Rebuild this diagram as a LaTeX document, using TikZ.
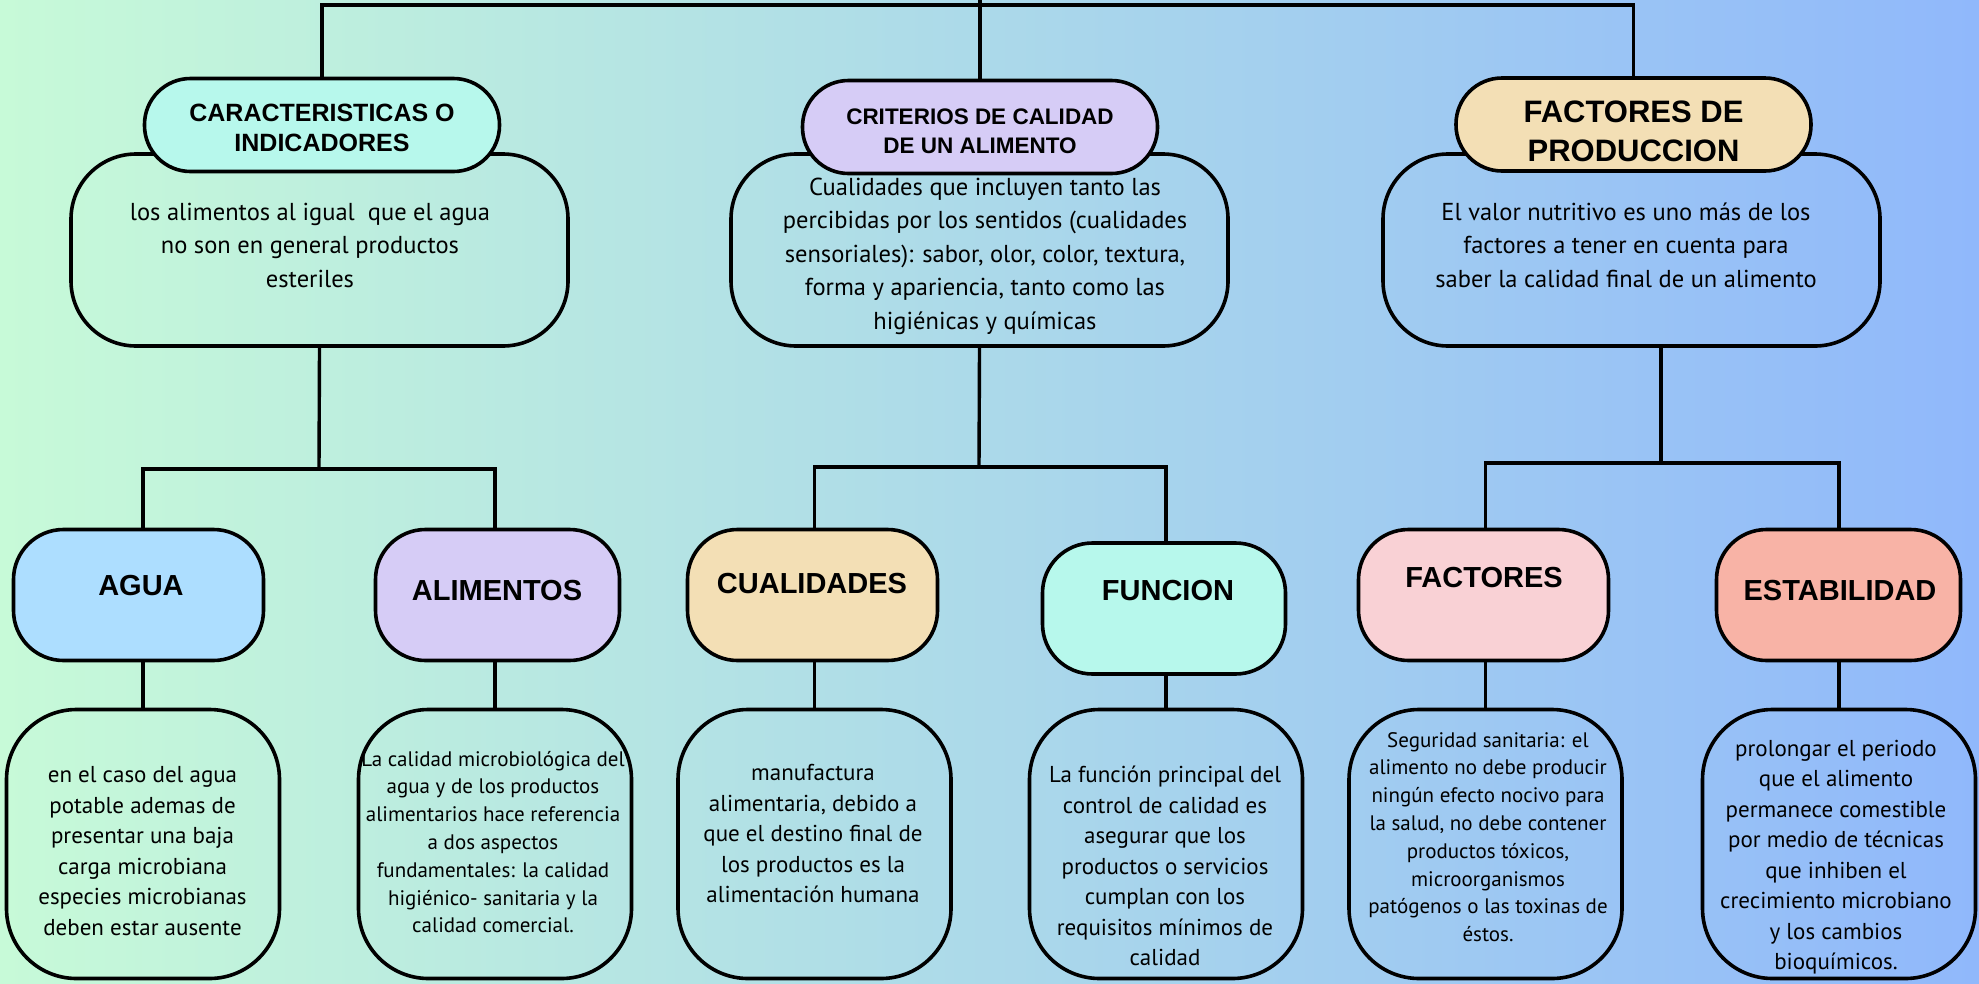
\documentclass[tikz,border=0pt]{standalone}
\usepackage{fontspec}
\setmainfont{PT Sans}
\newfontfamily\headfont{Liberation Sans}
\usetikzlibrary{calc}
\definecolor{bgL}{RGB}{199,250,216}
\definecolor{bgR}{RGB}{144,184,251}
\definecolor{cMint}{RGB}{183,248,236}
\definecolor{cLav}{RGB}{214,204,246}
\definecolor{cBeige}{RGB}{243,223,181}
\definecolor{cBlue}{RGB}{173,222,255}
\definecolor{cPink}{RGB}{249,209,213}
\definecolor{cSalmon}{RGB}{248,179,166}
\begin{document}
\begin{tikzpicture}[x=1pt,y=-1pt,
  conn/.style={line width=3.4pt,draw=black},
  bigbox/.style={draw=black,line width=3.6pt,rounded corners=65pt,minimum width=497pt,minimum height=192pt,inner sep=0pt},
  pill/.style={draw=black,line width=3.6pt,rounded corners=46pt,minimum width=355pt,minimum height=93pt,inner sep=0pt},
  midbox/.style={draw=black,line width=3.6pt,rounded corners=50pt,minimum height=131pt,inner sep=0pt},
  lowbox/.style={draw=black,line width=3.6pt,rounded corners=70pt,minimum width=273pt,minimum height=269pt,inner sep=0pt},
  desc/.style={align=center,inner sep=0pt,font=\fontsize{24.5}{33.5}\selectfont},
  lowtxt/.style={align=center,inner sep=0pt,font=\fontsize{23}{30.5}\selectfont},
  smalltxt/.style={align=center,inner sep=0pt,font=\fontsize{21}{27.8}\selectfont},
  midtitle/.style={inner sep=0pt,font=\headfont\bfseries\fontsize{29}{34}\selectfont}
]
\useasboundingbox (0,0) rectangle (1979,983);
\shade[left color=bgL,right color=bgR] (0,0) rectangle (1979,983);

% level 1 description boxes
\node[bigbox] (d1) at (319.5,250) {};
\node[bigbox] (d2) at (979.5,250) {};
\node[bigbox] (d3) at (1631.5,250) {};
\node[desc] (d1t) at (310,245) {los alimentos al igual~ que el agua\\no son en general productos\\esteriles};
\node[desc] (d2t) at (985,256) {Cualidades que incluyen tanto las\\percibidas por los sentidos (cualidades\\sensoriales): sabor, olor, color, textura,\\forma y apariencia, tanto como las\\higiénicas y químicas};
\node[desc] (d3t) at (1626,245) {El valor nutritivo es uno más de los\\factores a tener en cuenta para\\saber la calidad final de un alimento};

% pills
\node[pill,fill=cMint] (p1) at (322,125) {};
\node[pill,fill=cLav] (p2) at (980,127) {};
\node[pill,fill=cBeige] (p3) at (1633.5,124.5) {};
\node[align=center,inner sep=0pt,font=\headfont\bfseries\fontsize{25}{30}\selectfont] (p1t) at (322,128) {CARACTERISTICAS O\\INDICADORES};
\node[align=center,inner sep=0pt,font=\headfont\bfseries\fontsize{22.5}{29}\selectfont] (p2t) at (980,131) {CRITERIOS DE CALIDAD\\DE UN ALIMENTO};
\node[align=center,inner sep=0pt,font=\headfont\bfseries\fontsize{31}{39}\selectfont] (p3t) at (1633.5,131) {FACTORES DE\\PRODUCCION};

% level 2 boxes
\node[midbox,fill=cBlue,minimum width=250pt] (agua) at (138.5,595) {};
\node[midbox,fill=cLav,minimum width=244pt] (alim) at (497.5,595) {};
\node[midbox,fill=cBeige,minimum width=250pt] (cual) at (812.5,595) {};
\node[midbox,fill=cMint,minimum width=243pt] (func) at (1164,608.5) {};
\node[midbox,fill=cPink,minimum width=250pt] (fact) at (1483.5,595) {};
\node[midbox,fill=cSalmon,minimum width=244pt] (estab) at (1838.5,595) {};
\node[midtitle] (aguat) at (141,586) {AGUA};
\node[midtitle] (alimt) at (497,591) {ALIMENTOS};
\node[midtitle] (cualt) at (812,584) {CUALIDADES};
\node[midtitle] (funct) at (1168,591) {FUNCION};
\node[midtitle] (factt) at (1484,578) {FACTORES};
\node[midtitle] (estabt) at (1840,591) {ESTABILIDAD};

% level 3 boxes
\node[lowbox] (t1) at (143,844) {};
\node[lowbox] (t2) at (495,844) {};
\node[lowbox] (t3) at (814.5,844) {};
\node[lowbox] (t4) at (1166,844) {};
\node[lowbox] (t5) at (1485.5,844) {};
\node[lowbox] (t6) at (1839,844) {};
\node[lowtxt] (t1t) at (142.5,851) {en el caso del agua\\potable ademas de\\presentar una baja\\carga microbiana\\especies microbianas\\deben estar ausente};
\node[smalltxt] (t2t) at (493,842) {La calidad microbiológica del\\agua y de los productos\\alimentarios hace referencia\\a dos aspectos\\fundamentales: la calidad\\higiénico- sanitaria y la\\calidad comercial.};
\node[lowtxt] (t3t) at (813,834) {manufactura\\alimentaria, debido a\\que el destino final de\\los productos es la\\alimentación humana};
\node[lowtxt] (t4t) at (1165,866) {La función principal del\\control de calidad es\\asegurar que los\\productos o servicios\\cumplan con los\\requisitos mínimos de\\calidad};
\node[smalltxt] (t5t) at (1488,837) {Seguridad sanitaria: el\\alimento no debe producir\\ningún efecto nocivo para\\la salud, no debe contener\\productos tóxicos,\\microorganismos\\patógenos o las toxinas de\\éstos.};
\node[lowtxt] (t6t) at (1836,857) {prolongar el periodo\\que el alimento\\permanece comestible\\por medio de técnicas\\que inhiben el\\crecimiento microbiano\\y los cambios\\bioquímicos.};

% connectors
\coordinate (root) at (980,0);
\coordinate (bar) at (980,5);
\coordinate (j1) at (319,469);
\coordinate (j2) at (979,467);
\coordinate (j3) at (1661,463);
\draw[conn] (p1.north) |- (bar) -| (p3.north);
\draw[conn] (root) -- (p2.north);
\draw[conn] (d1.south) -- (j1);
\draw[conn] (d2.south) -- (j2);
\draw[conn] (d3.south -| j3) -- (j3);
\draw[conn] (agua.north -| t1.north) |- (j1) -| (alim.north -| t2.north);
\draw[conn] (cual.north -| t3.north) |- (j2) -| (func.north -| t4.north);
\draw[conn] (fact.north -| t5.north) |- (j3) -| (estab.north -| t6.north);
\draw[conn] (agua.south -| t1.north) -- (t1.north);
\draw[conn] (alim.south -| t2.north) -- (t2.north);
\draw[conn] (cual.south -| t3.north) -- (t3.north);
\draw[conn] (func.south -| t4.north) -- (t4.north);
\draw[conn] (fact.south -| t5.north) -- (t5.north);
\draw[conn] (estab.south -| t6.north) -- (t6.north);
\end{tikzpicture}
\end{document}
